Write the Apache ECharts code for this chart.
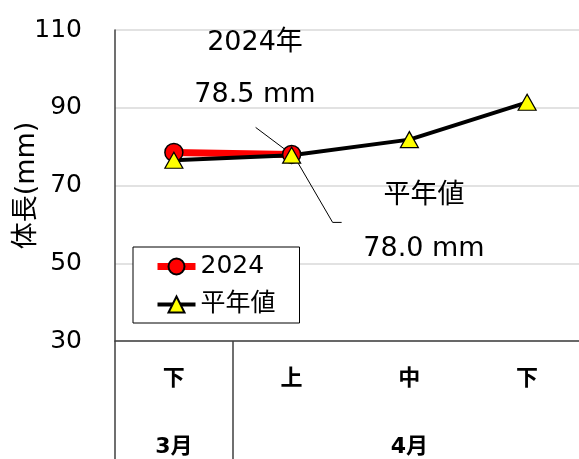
<!DOCTYPE html>
<html>
<head>
<meta charset="utf-8">
<script src="https://cdn.jsdelivr.net/npm/echarts@6/dist/echarts.min.js"></script>
<style>
  html, body { margin: 0; padding: 0; background: #fff; }
  #chart { width: 579px; height: 459px; }
</style>
</head>
<body>
<div id="chart"></div>
<script>
// data
const periods = ['下', '上', '中', '下'];
const months = ['3月', '', '4月', ''];
const yearValues = [78.5, 78.0];
const normalValues = [76.5, 77.8, 81.8, 91.4];
const yTicks = { min: 30, max: 110, step: 20 };

const FONT = "'DejaVu Sans', 'Noto Sans CJK JP', sans-serif";
const CJK = "'Noto Sans CJK JP', sans-serif";

const chart = echarts.init(document.getElementById('chart'));

chart.setOption({
  animation: false,
  grid: { left: 115, right: -7, top: 30, bottom: 118, outerBoundsMode: 'none', containLabel: false },
  legend: {
    orient: 'vertical',
    left: 133,
    top: 247,
    padding: [7, 24, 6, 21],
    itemWidth: 38,
    itemHeight: 20,
    itemGap: 13,
    borderColor: '#000',
    borderWidth: 1,
    backgroundColor: '#fff',
    textStyle: { fontSize: 25, color: '#000', fontFamily: FONT },
    data: [
      { name: '2024', lineStyle: { width: 7 } },
      { name: '平年値', lineStyle: { width: 4 } },
    ],
  },
  xAxis: [
    {
      type: 'category',
      data: periods,
      axisLine: { lineStyle: { color: '#404040', width: 1.5 } },
      axisTick: {
        show: true,
        length: 120,
        interval: (i) => i === 0 || i === 1,
        lineStyle: { color: '#404040', width: 1.5 },
      },
      axisLabel: {
        margin: 25,
        fontSize: 22,
        fontWeight: 'bold',
        color: '#000',
        fontFamily: CJK,
        interval: 0,
      },
    },
    {
      type: 'category',
      data: months,
      position: 'bottom',
      axisLine: { show: false },
      axisTick: { show: false },
      axisLabel: {
        margin: 95,
        fontSize: 22,
        fontWeight: 'bold',
        color: '#000',
        fontFamily: FONT,
        interval: 0,
      },
    },
  ],
  yAxis: {
    type: 'value',
    min: yTicks.min,
    max: yTicks.max,
    interval: yTicks.step,
    name: '体長(mm)',
    nameLocation: 'middle',
    nameGap: 75,
    nameMoveOverlap: false,
    nameTextStyle: { fontSize: 27, color: '#000', fontFamily: FONT },
    axisLine: { show: true, lineStyle: { color: '#404040', width: 1.5 } },
    axisTick: { show: false },
    axisLabel: { margin: 33, fontSize: 25, color: '#000', fontFamily: FONT },
    splitLine: { lineStyle: { color: '#d9d9d9', width: 1.5 } },
  },
  series: [
    {
      name: '2024',
      type: 'line',
      data: yearValues,
      symbol: 'circle',
      symbolSize: 18,
      lineStyle: { color: '#ff0000', width: 7 },
      itemStyle: { color: '#ff0000', borderColor: '#000', borderWidth: 1.5 },
    },
    {
      name: '平年値',
      type: 'line',
      data: normalValues,
      symbol: 'triangle',
      symbolSize: [18, 16],
      lineStyle: { color: '#000', width: 4 },
      itemStyle: { color: '#ffff00', borderColor: '#000', borderWidth: 1.2 },
    },
  ],
});

// callout texts and leader lines anchored to the 上 point
const p = chart.convertToPixel({ gridIndex: 0 }, [1, yearValues[1]]);
const txt = (text, x, y) => ({
  type: 'text',
  x: x,
  y: y,
  style: {
    text: text,
    fill: '#000',
    font: '27px ' + FONT,
    textAlign: 'center',
    textVerticalAlign: 'middle',
  },
});
chart.setOption({
  graphic: [
    txt('2024年', 255, 43),
    txt('78.5 mm', 255, 95),
    txt('平年値', 424, 196),
    txt('78.0 mm', 424, 249),
    {
      type: 'polyline',
      shape: { points: [[p[0] - 36, p[1] - 27], [p[0] - 4, p[1] - 3]] },
      style: { stroke: '#000', lineWidth: 1, fill: null },
    },
    {
      type: 'polyline',
      shape: { points: [[p[0] + 2, p[1] + 1], [p[0] + 41, p[1] + 68], [p[0] + 50, p[1] + 68]] },
      style: { stroke: '#000', lineWidth: 1, fill: null },
    },
  ],
});
</script>
</body>
</html>
